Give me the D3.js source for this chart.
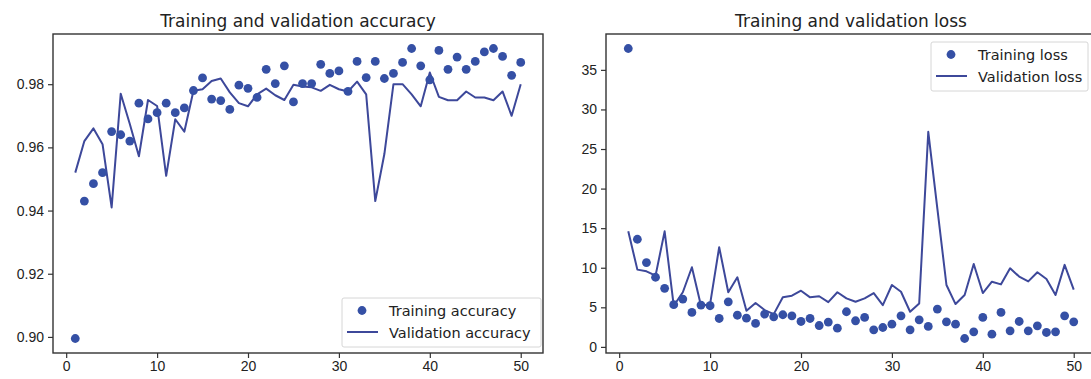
<!DOCTYPE html>
<html>
<head>
<meta charset="utf-8">
<script src="https://cdn.jsdelivr.net/npm/d3@7"></script>
<style>
  body { margin: 0; background: #fff; }
  svg { display: block; font-family: "DejaVu Sans", sans-serif; }
</style>
</head>
<body>
<div class="chart-holder"></div>
<script>
// Epoch numbers (x values)
const epochs = [1, 2, 3, 4, 5, 6, 7, 8, 9, 10, 11, 12, 13, 14, 15, 16, 17, 18, 19, 20,
  21, 22, 23, 24, 25, 26, 27, 28, 29, 30, 31, 32, 33, 34, 35, 36, 37, 38, 39, 40,
  41, 42, 43, 44, 45, 46, 47, 48, 49, 50];

// Accuracy values
const train_acc = [0.8995, 0.943, 0.9485, 0.952, 0.965, 0.964, 0.962, 0.974, 0.969, 0.971,
  0.974, 0.971, 0.9725, 0.978, 0.982, 0.9753, 0.9748, 0.972, 0.9797, 0.9787,
  0.9758, 0.9847, 0.9802, 0.9858, 0.9744, 0.9802, 0.9802, 0.9863, 0.9834, 0.9842,
  0.9777, 0.9872, 0.9821, 0.9872, 0.9818, 0.9834, 0.9869, 0.9913, 0.9858, 0.9814,
  0.9907, 0.9847, 0.9886, 0.9847, 0.9872, 0.9902, 0.9913, 0.9888, 0.9828, 0.9869];
const val_acc = [0.952, 0.962, 0.966, 0.961, 0.941, 0.977, 0.9674, 0.9572, 0.975, 0.9731,
  0.951, 0.9689, 0.965, 0.9779, 0.9784, 0.981, 0.9818, 0.9774, 0.974, 0.973,
  0.9768, 0.9786, 0.9765, 0.975, 0.9798, 0.9793, 0.979, 0.9779, 0.9798, 0.9784,
  0.9777, 0.9808, 0.9768, 0.943, 0.9579, 0.98, 0.98, 0.9768, 0.973, 0.9837,
  0.976, 0.9749, 0.9749, 0.9777, 0.9758, 0.9758, 0.9749, 0.9777, 0.970, 0.980];

// Loss values
const train_loss = [37.7, 13.6, 10.65, 8.8, 7.4, 5.33, 6.04, 4.35, 5.28, 5.2,
  3.59, 5.7, 4.0, 3.63, 2.96, 4.14, 3.8, 4.06, 3.93, 3.21,
  3.59, 2.7, 3.13, 2.37, 4.44, 3.3, 3.72, 2.16, 2.45, 2.87,
  3.93, 2.16, 3.42, 2.58, 4.78, 3.17, 2.87, 1.06, 1.9, 3.72,
  1.61, 4.35, 2.03, 3.21, 2.03, 2.66, 1.82, 1.9, 3.93, 3.17];
const val_loss = [14.6, 9.76, 9.55, 9.0, 14.6, 5.2, 6.9, 10.06, 5.2, 5.4,
  12.6, 6.9, 8.8, 4.56, 5.54, 4.65, 4.14, 6.26, 6.47, 7.1,
  6.26, 6.4, 5.66, 6.9, 6.13, 5.7, 6.13, 6.8, 5.28, 7.82,
  6.97, 4.44, 5.49, 27.18, 17.46, 7.82, 5.41, 6.55, 10.48, 6.8,
  8.24, 7.9, 9.93, 8.88, 8.28, 9.43, 8.58, 6.55, 10.36, 7.23];

// Tick labels
const x_ticks = [0, 10, 20, 30, 40, 50];
const acc_ticks = [0.90, 0.92, 0.94, 0.96, 0.98];
const loss_ticks = [0, 5, 10, 15, 20, 25, 30, 35];

const width = 1091;
const height = 379;
const dot_color = '#3550a5';
const line_color = '#3d489a';

const svg = d3.select('.chart-holder').append('svg')
  .attr('width', width)
  .attr('height', height);

// matplotlib style autoscale: 5% padding on both sides
function padded(values) {
  const [lo, hi] = d3.extent(values);
  const pad = (hi - lo) * 0.05;
  return [lo - pad, hi + pad];
}

function drawPanel(opts) {
  const x = d3.scaleLinear()
    .domain(padded(epochs))
    .range([opts.left, opts.right]);
  const y = d3.scaleLinear()
    .domain(padded(opts.train.concat(opts.val)))
    .range([opts.bottom, opts.top]);

  const g = svg.append('g');

  // clip marks to the axes box
  const clipId = 'clip-' + opts.id;
  g.append('clipPath').attr('id', clipId)
    .append('rect')
    .attr('x', opts.left).attr('y', opts.top)
    .attr('width', opts.right - opts.left)
    .attr('height', opts.bottom - opts.top);

  const plot = g.append('g').attr('clip-path', 'url(#' + clipId + ')');

  const line = d3.line()
    .x((d, i) => x(epochs[i]))
    .y(d => y(d));

  plot.append('path')
    .datum(opts.val)
    .attr('fill', 'none')
    .attr('stroke', line_color)
    .attr('stroke-width', 2)
    .attr('stroke-linejoin', 'round')
    .attr('d', line);

  plot.selectAll('circle')
    .data(opts.train)
    .join('circle')
    .attr('cx', (d, i) => x(epochs[i]))
    .attr('cy', d => y(d))
    .attr('r', 4.4)
    .attr('fill', dot_color);

  // X axis
  const xAxis = g.append('g')
    .attr('transform', 'translate(0,' + opts.bottom + ')')
    .call(d3.axisBottom(x).tickValues(x_ticks).tickSize(5).tickPadding(3).tickFormat(d3.format('d')));

  // Y axis
  const yAxis = g.append('g')
    .attr('transform', 'translate(' + opts.left + ',0)')
    .call(d3.axisLeft(y).tickValues(opts.yTicks).tickSize(5).tickPadding(4).tickFormat(d3.format(opts.yFormat)));

  [xAxis, yAxis].forEach(a => {
    a.select('.domain').remove();
    a.selectAll('line').attr('stroke', '#333').attr('stroke-width', 1.2);
    a.selectAll('text').attr('fill', '#222').style('font-size', '14px');
  });

  // frame
  g.append('rect')
    .attr('x', opts.left).attr('y', opts.top)
    .attr('width', opts.right - opts.left)
    .attr('height', opts.bottom - opts.top)
    .attr('fill', 'none')
    .attr('stroke', '#333')
    .attr('stroke-width', 1.4);

  // title
  g.append('text')
    .attr('x', (opts.left + opts.right) / 2)
    .attr('y', opts.top - 7)
    .attr('text-anchor', 'middle')
    .attr('fill', '#222')
    .style('font-size', '17px')
    .text(opts.title);

  // legend
  const lg = g.append('g')
    .attr('transform', 'translate(' + opts.legend[0] + ',' + opts.legend[1] + ')');
  lg.append('rect')
    .attr('width', opts.legendW)
    .attr('height', 49)
    .attr('rx', 2)
    .attr('fill', '#fff')
    .attr('fill-opacity', 0.85)
    .attr('stroke', '#d6d6d6');
  lg.append('circle')
    .attr('cx', 20).attr('cy', 12.5)
    .attr('r', 4.4)
    .attr('fill', dot_color);
  lg.append('line')
    .attr('x1', 5).attr('x2', 36)
    .attr('y1', 34).attr('y2', 34)
    .attr('stroke', line_color)
    .attr('stroke-width', 2);
  lg.append('text')
    .attr('x', 47).attr('y', 17.5)
    .attr('fill', '#222')
    .style('font-size', '14.5px')
    .text(opts.labels[0]);
  lg.append('text')
    .attr('x', 47).attr('y', 39.5)
    .attr('fill', '#222')
    .style('font-size', '14.5px')
    .text(opts.labels[1]);
}

drawPanel({
  id: 'acc', left: 53, right: 543, top: 34, bottom: 353,
  train: train_acc, val: val_acc,
  yTicks: acc_ticks, yFormat: '.2f',
  title: 'Training and validation accuracy',
  labels: ['Training accuracy', 'Validation accuracy'],
  legend: [342, 298], legendW: 199
});

drawPanel({
  id: 'loss', left: 606, right: 1096, top: 34, bottom: 353,
  train: train_loss, val: val_loss,
  yTicks: loss_ticks, yFormat: 'd',
  title: 'Training and validation loss',
  labels: ['Training loss', 'Validation loss'],
  legend: [931, 42], legendW: 157
});
</script>
</body>
</html>
